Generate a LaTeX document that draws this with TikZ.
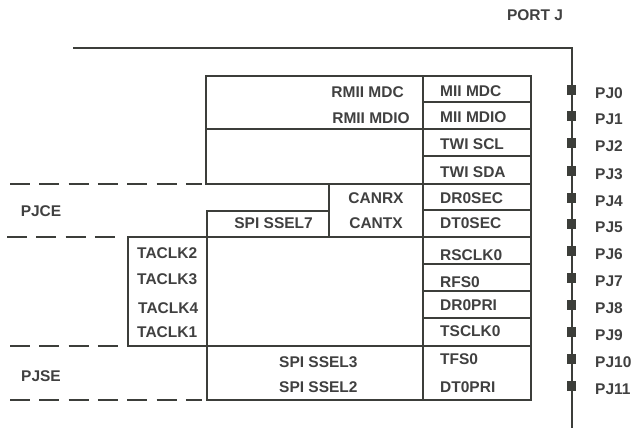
\documentclass[tikz,border=0pt]{standalone}
\usepackage{fontspec}
\setmainfont{Liberation Sans}
\definecolor{ink}{RGB}{60,62,58}
\definecolor{txt}{RGB}{64,64,64}
\begin{document}
\begin{tikzpicture}[x=1pt,y=-1pt,
  wire/.style={draw=ink,line width=1.9pt},
  dashline/.style={draw=ink,line width=1.9pt,dash pattern=on 20pt off 9.3pt},
  lbl/.style={text=txt,font=\fontsize{15.5}{17}\selectfont\bfseries,inner sep=0pt,text height=11pt,text depth=0pt},
  pin/.style={fill=ink,minimum size=9.5pt,inner sep=0pt}
]
\useasboundingbox (0,0) rectangle (631,431);

% port outline
\coordinate (tl) at (73,48);
\coordinate (tr) at (572,48);
\coordinate (br) at (572,428);
\draw[wire] (tl) -- (tr) -- (br);
\node[lbl] (portj) at (535,15) {PORT J};

% right column
\draw[wire] (423,76) rectangle (531,400);
\foreach \yy in {102,129,156,184,210,237,264,291,318,346}
  \draw[wire] (423,\yy) -- (531,\yy);

% left boxes
\draw[wire] (206,76) rectangle (423,129);
\draw[wire] (206,129) rectangle (423,184);
\draw[wire] (329,184) rectangle (423,237);
\draw[wire] (207,211) rectangle (329,237);
\draw[wire] (207,237) rectangle (423,346);
\draw[wire] (128,237) rectangle (207,346);
\draw[wire] (207,346) rectangle (423,400);

% dashed group lines
\draw[dashline] (10,184) -- (202,184);
\draw[dashline] (7,237) -- (118,237);
\draw[dashline] (10,346) -- (120,346);
\draw[dashline] (10,400) -- (202,400);
\node[lbl] (pjce) at (41,211) {PJCE};
\node[lbl] (pjse) at (41,376) {PJSE};

% right column labels
\node[lbl,anchor=west] (c0) at (440,91) {MII MDC};
\node[lbl,anchor=west] (c1) at (440,117) {MII MDIO};
\node[lbl,anchor=west] (c2) at (440,144) {TWI SCL};
\node[lbl,anchor=west] (c3) at (440,172) {TWI SDA};
\node[lbl,anchor=west] (c4) at (440,198) {DR0SEC};
\node[lbl,anchor=west] (c5) at (440,223) {DT0SEC};
\node[lbl,anchor=west] (c6) at (440,255) {RSCLK0};
\node[lbl,anchor=west] (c7) at (440,282) {RFS0};
\node[lbl,anchor=west] (c8) at (440,305) {DR0PRI};
\node[lbl,anchor=west] (c9) at (440,331) {TSCLK0};
\node[lbl,anchor=west] (c10) at (440,359) {TFS0};
\node[lbl,anchor=west] (c11) at (440,387) {DT0PRI};

% inner labels
\node[lbl,anchor=east] (rmdc) at (404,92) {RMII MDC};
\node[lbl,anchor=east] (rmdio) at (410,118) {RMII MDIO};
\node[lbl] (canrx) at (376,198) {CANRX};
\node[lbl] (cantx) at (376,223) {CANTX};
\node[lbl,anchor=east] (ssel7) at (313,223) {SPI SSEL7};
\node[lbl,anchor=west] (ta2) at (137,253) {TACLK2};
\node[lbl,anchor=west] (ta3) at (137,279) {TACLK3};
\node[lbl,anchor=west] (ta4) at (138,308) {TACLK4};
\node[lbl,anchor=west] (ta1) at (137,332) {TACLK1};
\node[lbl,anchor=west] (ssel3) at (279,362) {SPI SSEL3};
\node[lbl,anchor=west] (ssel2) at (279,387) {SPI SSEL2};

% pins
\foreach \i/\yy in {0/90,1/116,2/143,3/171,4/198,5/224,6/251,7/278,8/305,9/332,10/359,11/386}{
  \node[pin] (p\i) at (571.5,\yy) {};
  \node[lbl,anchor=west] (pj\i) at (595,\yy+3) {PJ\i};
}
\end{tikzpicture}
\end{document}
